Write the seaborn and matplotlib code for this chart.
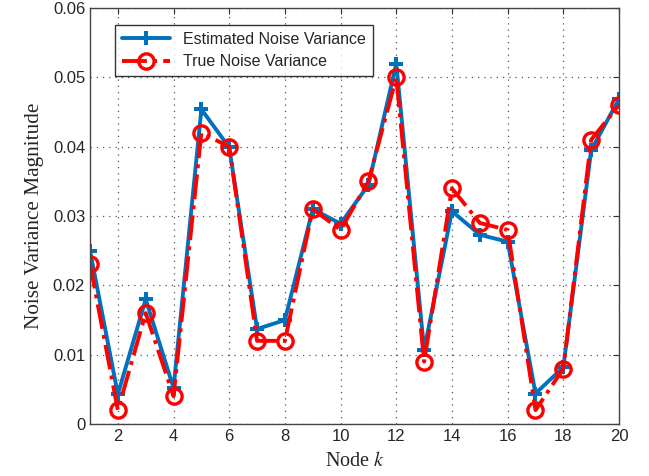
import matplotlib
matplotlib.use("Agg")
import matplotlib.pyplot as plt
import numpy as np
import pandas as pd
import seaborn as sns

# Node index and the two noise variance series
nodes = list(range(1, 21))
estimated = [0.0250, 0.0043, 0.0180, 0.0052, 0.0454, 0.0399, 0.0137, 0.0150, 0.0310, 0.0289,
             0.0345, 0.0520, 0.0107, 0.0307, 0.0273, 0.0263, 0.0044, 0.0082, 0.0395, 0.0469]
true_var = [0.0231, 0.0020, 0.0160, 0.0040, 0.0420, 0.0400, 0.0120, 0.0120, 0.0310, 0.0280,
            0.0350, 0.0500, 0.0090, 0.0340, 0.0290, 0.0280, 0.0020, 0.0080, 0.0410, 0.0460]
x_ticks = list(range(2, 21, 2))
y_ticks = [0, 0.01, 0.02, 0.03, 0.04, 0.05, 0.06]

df = pd.DataFrame({"node": nodes, "Estimated Noise Variance": estimated,
                   "True Noise Variance": true_var})

sns.set_style("white")
plt.rcParams["font.family"] = ["Liberation Sans", "DejaVu Sans"]
plt.rcParams["mathtext.fontset"] = "stix"

fig = plt.figure(figsize=(6.49, 4.76), dpi=100)
ax = fig.add_axes([0.1387, 0.1092, 0.8151, 0.8738])

sns.lineplot(data=df, x="node", y="Estimated Noise Variance", ax=ax, color="#0072BD",
             linewidth=2.8, marker="P", markersize=10, markeredgewidth=0,
             label="Estimated Noise Variance")
sns.lineplot(data=df, x="node", y="True Noise Variance", ax=ax, color="#FF0000",
             linewidth=2.8, linestyle="-.", marker="o", markersize=11,
             markerfacecolor="none", markeredgecolor="#FF0000", markeredgewidth=2.4,
             label="True Noise Variance")

ax.set_xlim(1, 20)
ax.set_ylim(0, 0.06)
ax.set_xticks(x_ticks)
ax.set_yticks(y_ticks)
ax.set_yticklabels(["0", "0.01", "0.02", "0.03", "0.04", "0.05", "0.06"])
ax.tick_params(direction="in", top=True, right=True, labelsize=12, length=4, color="#333333")
ax.grid(True, linestyle=(0, (1, 4)), color="#555555", linewidth=0.9)
for s in ax.spines.values():
    s.set_color("#444444")
    s.set_linewidth(1.0)

ax.set_xlabel("Node $k$", family="Liberation Serif", fontsize=14.5, labelpad=6)
ax.set_ylabel("Noise Variance Magnitude", family="Liberation Serif", fontsize=15.3, labelpad=6)

leg = ax.legend(loc="upper left", bbox_to_anchor=(0.047, 0.96), fontsize=11.5,
                frameon=True, fancybox=False, handlelength=3.0, borderpad=0.45,
                labelspacing=0.45, borderaxespad=0)
leg.get_frame().set_edgecolor("black")
leg.get_frame().set_linewidth(1.0)

fig.savefig("out.png", dpi=100)
plt.close(fig)
